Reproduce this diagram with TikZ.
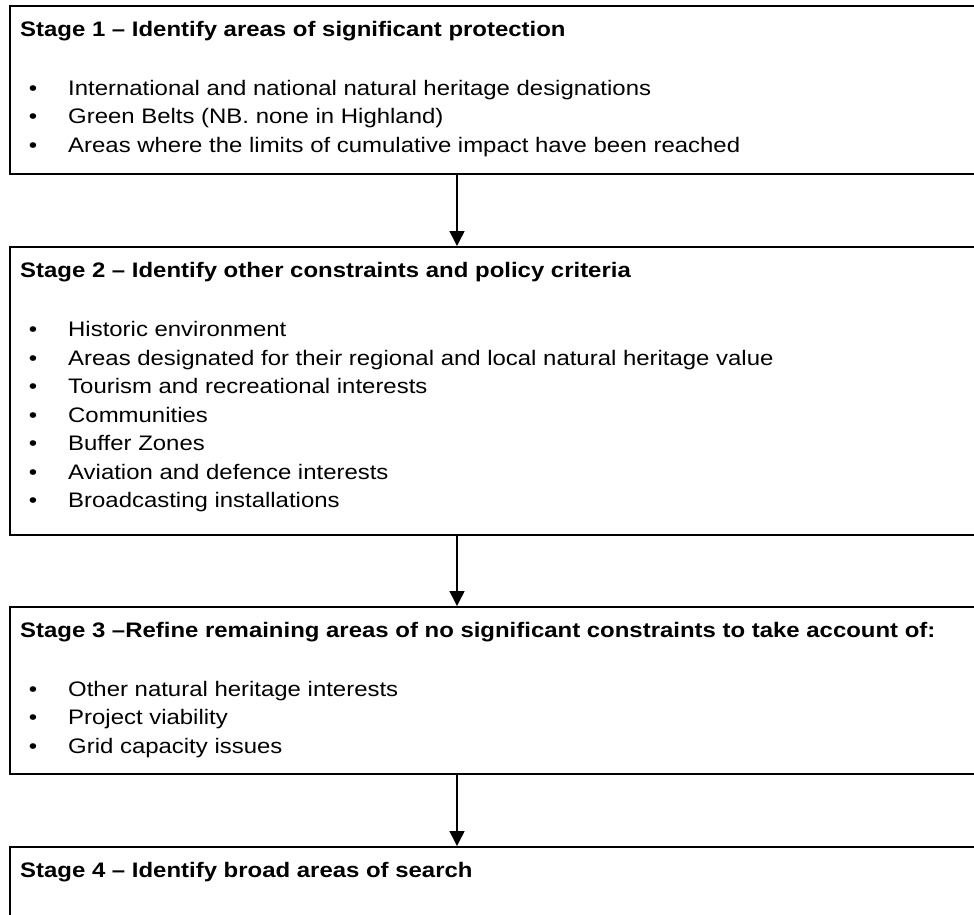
\documentclass[tikz,border=0pt]{standalone}
\usepackage{fontspec}
\setmainfont[FakeStretch=1.14]{Liberation Sans}
\usetikzlibrary{arrows.meta}
\tikzset{
  stagebox/.style={draw=black, line width=1.8pt, rectangle, anchor=north west, inner sep=0pt, minimum width=1000pt},
  title/.style={anchor=base west, inner sep=0pt, font=\fontsize{21}{25}\selectfont\bfseries},
  item/.style={anchor=base west, inner sep=0pt, font=\fontsize{21}{25}\selectfont},
  dot/.style={anchor=base, inner sep=0pt, font=\fontsize{21}{25}\selectfont},
  flow/.style={line width=1.5pt, -{Triangle[length=15pt,width=15pt]}}
}
\begin{document}
\begin{tikzpicture}[x=1pt,y=-1pt]
\clip (0,0) rectangle (974,914);
% boxes
\node[stagebox, minimum height=168pt] (b1) at (9,5) {};
\node[stagebox, minimum height=288pt] (b2) at (9,246) {};
\node[stagebox, minimum height=167pt] (b3) at (9,606) {};
\node[stagebox, minimum height=120pt] (b4) at (9,846) {};
% stage 1
\node[title] (t1) at (20,36) {Stage 1 – Identify areas of significant protection};
\foreach \y/\txt [count=\i] in {95/International and national natural heritage designations,
  123.5/Green Belts (NB. none in Highland),
  152/Areas where the limits of cumulative impact have been reached}{
  \node[dot] (d1\i) at (33,\y) {•};
  \node[item] (i1\i) at (68,\y) {\txt};
}
% stage 2
\node[title] (t2) at (20,277) {Stage 2 – Identify other constraints and policy criteria};
\foreach \y/\txt [count=\i] in {336.5/Historic environment,
  365/Areas designated for their regional and local natural heritage value,
  393.5/Tourism and recreational interests,
  422/Communities,
  450.5/Buffer Zones,
  479/Aviation and defence interests,
  507.5/Broadcasting installations}{
  \node[dot] (d2\i) at (33,\y) {•};
  \node[item] (i2\i) at (68,\y) {\txt};
}
% stage 3
\node[title] (t3) at (20,637) {Stage 3 –Refine remaining areas of no significant constraints to take account of:};
\foreach \y/\txt [count=\i] in {696/Other natural heritage interests,
  724.5/Project viability,
  753/Grid capacity issues}{
  \node[dot] (d3\i) at (33,\y) {•};
  \node[item] (i3\i) at (68,\y) {\txt};
}
% stage 4
\node[title] (t4) at (20,877) {Stage 4 – Identify broad areas of search};
% arrows
\draw[flow] (b1.south -| 457,0) -- (b2.north -| 457,0);
\draw[flow] (b2.south -| 457,0) -- (b3.north -| 457,0);
\draw[flow] (b3.south -| 457,0) -- (b4.north -| 457,0);
\end{tikzpicture}
\end{document}
